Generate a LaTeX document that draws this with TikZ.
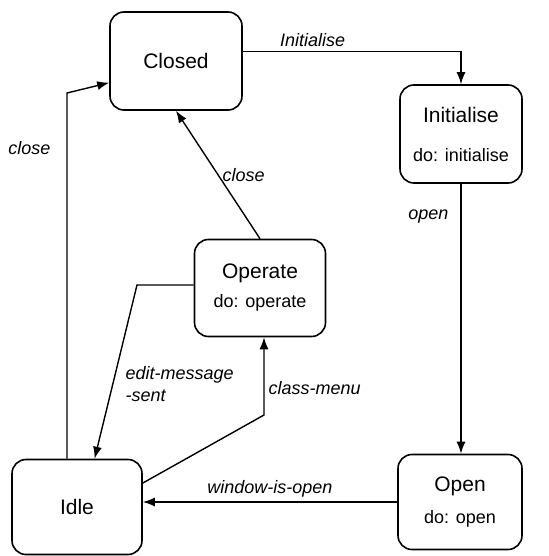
\documentclass[tikz,border=0pt]{standalone}
\usepackage{fontspec}
\setmainfont{Liberation Sans}
\usetikzlibrary{positioning,arrows.meta}

\begin{document}
\begin{tikzpicture}[x=0.5pt, y=-0.5pt, ->, >={Latex[length=6pt,width=4.5pt]}, line width=0.7pt,
			state/.style={draw, rounded corners=7pt, line width=0.8pt, align=center, font=\fontsize{10.5}{12}\selectfont},
			evt/.style={font=\fontsize{9}{11}\selectfont\itshape, inner sep=2pt}]
			\useasboundingbox (0,0) rectangle (548,556);
			
			\node[state, minimum width=66pt, minimum height=49pt] (closed) at (176,61) {Closed};
			\node[state, minimum width=61pt, minimum height=49pt] (init) at (461,134) {Initialise\\[7.5pt]{\fontsize{9}{11}\selectfont do: initialise}};
			\node[state, minimum width=65.5pt, minimum height=48.5pt] (operate) at (260,288) {Operate\\[2.5pt]{\fontsize{9}{11}\selectfont do: operate}};
			\node[state, minimum width=65pt, minimum height=47.5pt] (idle) at (77,507) {Idle};
			\node[state, minimum width=62pt, minimum height=47.5pt] (open) at (460,502) {Open\\[4pt]{\fontsize{9}{11}\selectfont do: open}};
			\coordinate (k1) at (67,93);
			\coordinate (k2) at (137,285);
			\coordinate (k3) at (264,415);
			\draw (closed.8) -| node[evt, above, pos=0.16] {Initialise} (init.north);
			\draw (init.south) -- node[evt, left=4pt, pos=0.12] {open} (init.south |- open.north);
			\draw (open.west) -- node[evt, above] {window-is-open} (open.west -| idle.east);
			\draw (idle.north -| k1) -- node[evt, left=6pt, pos=0.85] {close} (k1) -- (closed.198);
			\draw (operate.north) -- node[evt, right, pos=0.5] {close} (closed.south);
			\draw (operate.west |- k2) -- (k2) -- node[evt, right=4pt, pos=0.57, align=left] {edit-message\\-sent} (idle.70);
			\draw (idle.20) -- (k3) -- node[evt, right, pos=0.35] {class-menu} (operate.south -| k3);
	\end{tikzpicture}
\end{document}
